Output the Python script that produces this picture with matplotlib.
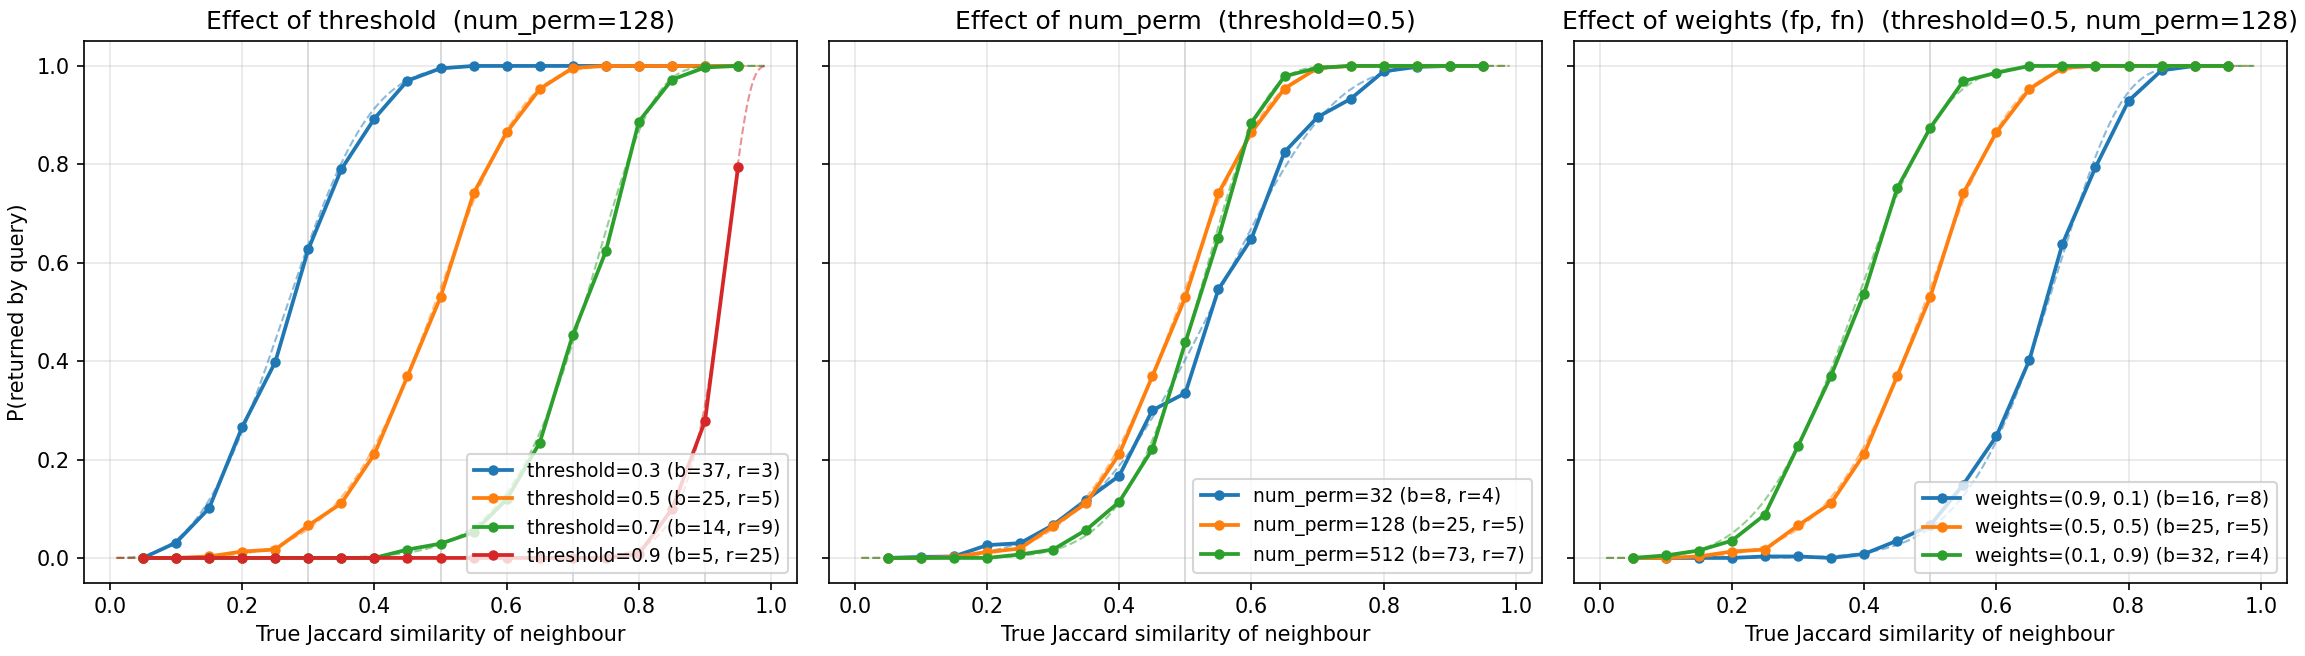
import numpy as np
import matplotlib
matplotlib.use("Agg")
import matplotlib.pyplot as plt

# Similarity grid of the empirical measurements
sims = [0.05, 0.10, 0.15, 0.20, 0.25, 0.30, 0.35, 0.40, 0.45, 0.50,
        0.55, 0.60, 0.65, 0.70, 0.75, 0.80, 0.85, 0.90, 0.95]

# ---- Panel 1: effect of threshold (num_perm=128)
thr_labels = ["threshold=0.3 (b=37, r=3)", "threshold=0.5 (b=25, r=5)",
              "threshold=0.7 (b=14, r=9)", "threshold=0.9 (b=5, r=25)"]
thr_values = [0.3, 0.5, 0.7, 0.9]
thr_b = [37, 25, 14, 5]
thr_r = [3, 5, 9, 25]
thr_03 = [0.0, 0.031, 0.101, 0.266, 0.398, 0.627, 0.790, 0.893, 0.970, 0.995,
          1.0, 1.0, 1.0, 1.0, 1.0, 1.0, 1.0, 1.0, 1.0]
thr_05 = [0.0, 0.0, 0.003, 0.013, 0.017, 0.066, 0.111, 0.211, 0.369, 0.530,
          0.741, 0.865, 0.953, 0.996, 1.0, 1.0, 1.0, 1.0, 1.0]
thr_07 = [0.0, 0.0, 0.0, 0.0, 0.0, 0.0, 0.0, 0.0, 0.017, 0.029,
          0.052, 0.119, 0.234, 0.453, 0.623, 0.887, 0.972, 0.997, 1.0]
thr_09 = [0.0, 0.0, 0.0, 0.0, 0.0, 0.0, 0.0, 0.0, 0.0, 0.0,
          0.0, 0.0, 0.0, 0.0, 0.0, 0.008, 0.099, 0.278, 0.794]

# ---- Panel 2: effect of num_perm (threshold=0.5)
np_labels = ["num_perm=32 (b=8, r=4)", "num_perm=128 (b=25, r=5)",
             "num_perm=512 (b=73, r=7)"]
np_b = [8, 25, 73]
np_r = [4, 5, 7]
np_32 = [0.0, 0.002, 0.003, 0.026, 0.030, 0.067, 0.118, 0.167, 0.300, 0.335,
         0.546, 0.649, 0.825, 0.896, 0.933, 0.989, 0.998, 1.0, 1.0]
np_128 = [0.0, 0.0, 0.002, 0.012, 0.019, 0.065, 0.111, 0.211, 0.369, 0.530,
          0.741, 0.865, 0.954, 0.996, 1.0, 1.0, 1.0, 1.0, 1.0]
np_512 = [0.0, 0.0, 0.0, 0.0, 0.007, 0.017, 0.057, 0.114, 0.221, 0.438,
          0.650, 0.885, 0.979, 0.996, 1.0, 1.0, 1.0, 1.0, 1.0]

# ---- Panel 3: effect of weights (threshold=0.5, num_perm=128)
w_labels = ["weights=(0.9, 0.1) (b=16, r=8)", "weights=(0.5, 0.5) (b=25, r=5)",
            "weights=(0.1, 0.9) (b=32, r=4)"]
w_b = [16, 25, 32]
w_r = [8, 5, 4]
w_91 = [0.0, 0.0, 0.0, 0.0, 0.003, 0.003, 0.0, 0.008, 0.035, 0.066,
        0.149, 0.247, 0.402, 0.638, 0.794, 0.929, 0.991, 1.0, 1.0]
w_55 = [0.0, 0.0, 0.003, 0.013, 0.017, 0.066, 0.111, 0.211, 0.369, 0.530,
        0.741, 0.865, 0.953, 0.996, 1.0, 1.0, 1.0, 1.0, 1.0]
w_19 = [0.0, 0.005, 0.015, 0.035, 0.088, 0.227, 0.370, 0.537, 0.751, 0.874,
        0.969, 0.986, 1.0, 1.0, 1.0, 1.0, 1.0, 1.0, 1.0]

titles = ["Effect of threshold  (num_perm=128)",
          "Effect of num_perm  (threshold=0.5)",
          "Effect of weights (fp, fn)  (threshold=0.5, num_perm=128)"]
colors = ["#1f77b4", "#ff7f0e", "#2ca02c", "#d62728"]

panels = [
    (thr_labels, [thr_03, thr_05, thr_07, thr_09], thr_b, thr_r, thr_values),
    (np_labels, [np_32, np_128, np_512], np_b, np_r, [0.5]),
    (w_labels, [w_91, w_55, w_19], w_b, w_r, [0.5]),
]

s_theory = np.linspace(0.01, 0.99, 300)

fig, axes = plt.subplots(1, 3, figsize=(2305 / 150, 656 / 150), dpi=150, sharey=True)
fig.subplots_adjust(left=0.0365, right=0.992, bottom=0.112, top=0.937, wspace=0.045)

for ax, title, (labels, series, bs, rs, thrs) in zip(axes, titles, panels):
    for t in thrs:
        ax.axvline(t, color="gray", lw=0.8, alpha=0.35, zorder=0)
    for i, (lab, ys, b, r) in enumerate(zip(labels, series, bs, rs)):
        c = colors[i]
        # theoretical LSH S-curve for the band/row parameters shown in the legend
        ax.plot(s_theory, 1 - (1 - s_theory ** r) ** b, "--", color=c, lw=1.0, alpha=0.5)
        ax.plot(sims, ys, "-o", color=c, lw=1.8, ms=4, label=lab)
    ax.set_title(title, fontsize=12)
    ax.set_xlabel("True Jaccard similarity of neighbour", fontsize=10)
    ax.grid(True, alpha=0.3)
    ax.legend(loc="lower right", fontsize=9)

axes[0].set_ylabel("P(returned by query)", fontsize=10)

fig.savefig("out.png", dpi=150)
